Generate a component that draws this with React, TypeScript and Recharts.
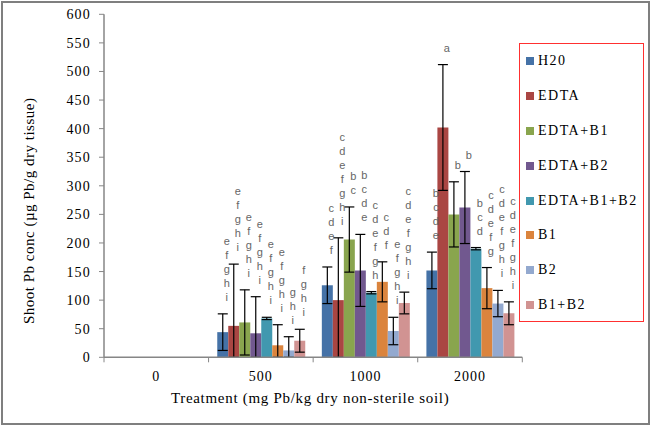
import React from 'react';
import { BarChart, Bar, XAxis, YAxis, ErrorBar, LabelList } from 'recharts';

const categories = ['0', '500', '1000', '2000'];
const seriesNames = ['H20', 'EDTA', 'EDTA+B1', 'EDTA+B2', 'EDTA+B1+B2', 'B1', 'B2', 'B1+B2'];
const seriesColors = ['#4572A7', '#AA4643', '#89A54E', '#71588F', '#4198AF', '#DB843D', '#93A9CF', '#D19392'];

const h20 = [0, 44, 126, 152];
const edta = [0, 55, 100, 402];
const edtaB1 = [0, 61, 206, 250];
const edtaB2 = [0, 42, 152, 262];
const edtaB1B2 = [0, 68, 113, 190];
const b1 = [0, 21, 132, 121];
const b2 = [0, 12, 46, 94];
const b1b2 = [0, 29, 95, 77];

const h20Err = [0, 32, 32, 32];
const edtaErr = [0, 108, 109, 110];
const edtaB1Err = [0, 57, 57, 57];
const edtaB2Err = [0, 64, 63, 63];
const edtaB1B2Err = [0, 2, 2, 2];
const b1Err = [0, 36, 35, 36];
const b2Err = [0, 24, 24, 23];
const b1b2Err = [0, 20, 19, 20];

const h20Letters = ['', 'efghi', 'cdef', 'bcde'];
const edtaLetters = ['', 'efghi', 'cdefghi', 'a'];
const edtaB1Letters = ['', 'efghi', 'bc', 'b'];
const edtaB2Letters = ['', 'efghi', 'bcde', 'b'];
const edtaB1B2Letters = ['', 'efghi', 'cdefgh', 'bcd'];
const b1Letters = ['', 'efghi', 'cdf', 'cdefg'];
const b2Letters = ['', 'ghi', 'efghi', 'cdefghi'];
const b1b2Letters = ['', 'fghi', 'cdefghi', 'cdefghi'];

const yTicks = [0, 50, 100, 150, 200, 250, 300, 350, 400, 450, 500, 550, 600];

const seriesValues = [h20, edta, edtaB1, edtaB2, edtaB1B2, b1, b2, b1b2];
const seriesErrors = [h20Err, edtaErr, edtaB1Err, edtaB2Err, edtaB1B2Err, b1Err, b2Err, b1b2Err];
const seriesLetters = [h20Letters, edtaLetters, edtaB1Letters, edtaB2Letters, edtaB1B2Letters, b1Letters, b2Letters, b1b2Letters];

const keys = seriesNames.map((_, i) => `s${i}`);

// table for recharts; error bars are cut at the axis (0) like the original
const table = categories.map((cat, ci) => {
  const row: any = { cat };
  keys.forEach((k, si) => {
    const v = seriesValues[si][ci];
    const e = seriesErrors[si][ci];
    row[k] = v;
    row[`${k}_err`] = e ? [Math.min(v, e), e] : null;
    row[`${k}_lab`] = { letters: seriesLetters[si][ci], v, e };
  });
  return row;
});

const AXIS = '#868686';
const SERIF = '"Liberation Serif", "Times New Roman", serif';

const LetterLabel = (p: any) => {
  const { x, y, width, height, value } = p;
  if (!value || typeof value !== 'object') return null;
  const { letters, v, e } = value;
  if (!letters || !v || !height) return null;
  const pxPerUnit = Math.abs(height) / v;
  const errTop = y - e * pxPerUnit;
  const cx = x + width / 2 + 4;
  const chars = String(letters).split('');
  const n = chars.length;
  return (
    <g>
      {chars.map((c: string, i: number) => (
        <text
          key={i}
          x={cx}
          y={errTop - 13 - (n - 1 - i) * 14}
          textAnchor="middle"
          fontFamily='"Liberation Sans", Arial, sans-serif'
          fontSize={11}
          fill="#666666"
          stroke="none"
          style={{ fill: '#666666', stroke: 'none' }}
        >
          {c}
        </text>
      ))}
    </g>
  );
};

const XTick = (props: any) => {
  const { x, y, payload, index, visibleTicksCount } = props;
  const half = payload && payload.offset ? payload.offset : 0;
  const axisY = y - 5;
  const isLast = index === (visibleTicksCount ?? categories.length) - 1;
  return (
    <g>
      <line x1={x - half} x2={x - half} y1={axisY} y2={axisY + 5} stroke={AXIS} />
      {isLast && <line x1={x + half} x2={x + half} y1={axisY} y2={axisY + 5} stroke={AXIS} />}
      <text x={x} y={axisY + 24} textAnchor="middle" fontFamily={SERIF} fontSize={14} letterSpacing={1} fill="#000">
        {payload.value}
      </text>
    </g>
  );
};

const XTitle = (p: any) => {
  const vb = p.viewBox || {};
  return (
    <text x={vb.x + vb.width / 2 - 3} y={vb.y + 46} textAnchor="middle" fontFamily={SERIF} fontSize={15} letterSpacing={0.7} fill="#000">
      Treatment (mg Pb/kg dry non-sterile soil)
    </text>
  );
};

const YTitle = (p: any) => {
  const vb = p.viewBox || {};
  const cx = vb.x - 10;
  const cy = vb.y + vb.height / 2 + 25;
  return (
    <text transform={`translate(${cx},${cy}) rotate(-90)`} textAnchor="middle" fontFamily={SERIF} fontSize={15} letterSpacing={0.5} fill="#000">
      Shoot Pb conc (µg Pb/g dry tissue)
    </text>
  );
};

export default function App() {
  return (
    <div style={{ position: 'absolute', left: 0, top: 0, width: 652, height: 427, background: '#fff' }}>
      <div
        style={{
          position: 'absolute',
          left: 1,
          top: 1,
          width: 649,
          height: 424,
          boxSizing: 'border-box',
          border: '2px solid #7f7f7f',
        }}
      />
      <div style={{ position: 'absolute', left: 0, top: 0 }}>
        <BarChart
          width={652}
          height={427}
          data={table}
          margin={{ top: 14.3, right: 129.7, left: 44, bottom: 29.7 }}
          barCategoryGap="8.3%"
          barGap={0}
        >
          <XAxis
            dataKey="cat"
            tickLine={false}
            axisLine={{ stroke: AXIS, strokeWidth: 1.5 }}
            tickSize={5}
            tickMargin={0}
            height={40}
            tick={<XTick />}
            interval={0}
            label={{ content: <XTitle /> }}
          />
          <YAxis
            domain={[0, 600]}
            ticks={yTicks}
            interval={0}
            width={60}
            tickSize={5}
            tickMargin={8}
            axisLine={{ stroke: AXIS, strokeWidth: 1.5 }}
            tickLine={{ stroke: AXIS }}
            tick={{ fontFamily: SERIF, fontSize: 14, letterSpacing: 1.2, fill: '#000' }}
            label={{ content: <YTitle /> }}
          />
          {keys.map((k, i) => (
            <Bar key={k} dataKey={k} name={seriesNames[i]} fill={seriesColors[i]} isAnimationActive={false}>
              <ErrorBar dataKey={`${k}_err`} width={5} strokeWidth={1.2} stroke="#000" direction="y" />
              <LabelList dataKey={`${k}_lab`} content={<LetterLabel />} />
            </Bar>
          ))}
        </BarChart>
      </div>
      <div
        style={{
          position: 'absolute',
          left: 519,
          top: 43,
          width: 125,
          height: 279,
          boxSizing: 'border-box',
          border: '1px solid #ff3030',
          background: '#fff',
        }}
      >
        {seriesNames.map((name, i) => (
          <div key={name} style={{ height: 34.8, display: 'flex', alignItems: 'center', paddingLeft: 6 }}>
            <div style={{ width: 8, height: 8, background: seriesColors[i], marginRight: 4 }} />
            <span style={{ fontFamily: SERIF, fontSize: 14, letterSpacing: 1.5, color: '#000', whiteSpace: 'nowrap' }}>{name}</span>
          </div>
        ))}
      </div>
    </div>
  );
}
